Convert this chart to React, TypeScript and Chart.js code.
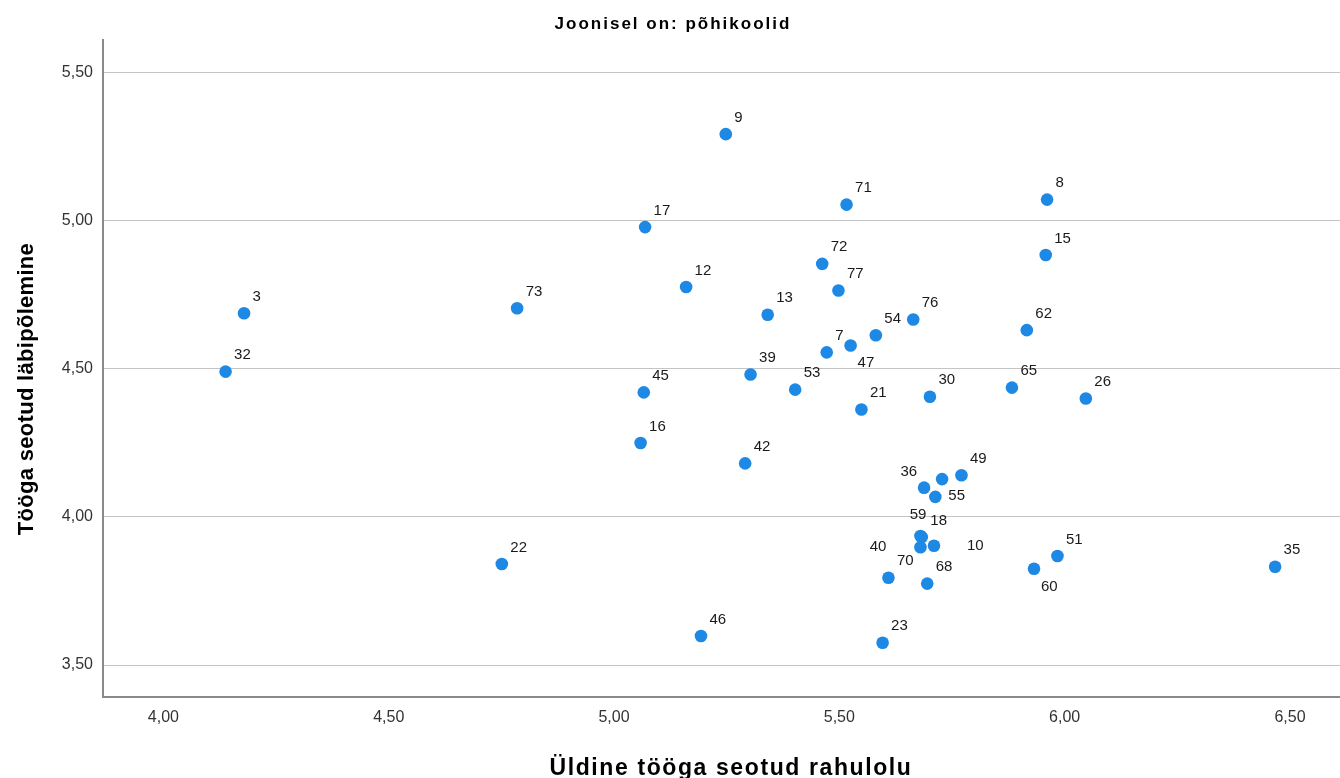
import React, { useEffect, useRef } from 'react';
import { Chart, registerables } from 'chart.js';

Chart.register(...registerables);

const chartTitle = 'Joonisel on: põhikoolid';
const xAxisTitle = 'Üldine tööga seotud rahulolu';
const yAxisTitle = 'Tööga seotud läbipõlemine';

const pointLabels = [
  '3', '32', '73', '22', '9', '17', '12', '71', '8', '15', '72', '77', '13', '76', '54', '62',
  '7', '47', '39', '45', '53', '21', '30', '65', '26', '16', '42', '36', '49', '55', '',
  '59', '18', '10', '40', '70', '68', '23', '60', '51', '35', '46',
];
const xValues = [
  4.179, 4.138, 4.785, 4.751, 5.248, 5.069, 5.160, 5.516, 5.961, 5.958, 5.462, 5.498, 5.341, 5.664, 5.581, 5.916,
  5.472, 5.525, 5.303, 5.066, 5.402, 5.549, 5.701, 5.883, 6.047, 5.059, 5.291, 5.688, 5.771, 5.713, 5.728,
  5.680, 5.683, 5.710, 5.680, 5.609, 5.695, 5.596, 5.932, 5.984, 6.467, 5.193,
];
const yValues = [
  4.688, 4.491, 4.705, 3.841, 5.293, 4.979, 4.777, 5.055, 5.072, 4.885, 4.855, 4.765, 4.683, 4.667, 4.614, 4.631,
  4.556, 4.579, 4.481, 4.421, 4.430, 4.363, 4.406, 4.437, 4.400, 4.250, 4.181, 4.099, 4.141, 4.068, 4.128,
  3.936, 3.932, 3.903, 3.898, 3.795, 3.775, 3.575, 3.825, 3.868, 3.832, 3.598,
];
const xTicks = [4.0, 4.5, 5.0, 5.5, 6.0, 6.5];
const yTicks = [3.5, 4.0, 4.5, 5.0, 5.5];

const fmt = (v: number) => v.toFixed(2).replace('.', ',');

// label placement: [dx, dy, align]
const labelPlacement: Record<string, [number, number, CanvasTextAlign]> = {
  '47': [7, 17.5, 'left'],
  '60': [7, 18, 'left'],
  '36': [-7, -16, 'right'],
  '55': [13, -1, 'left'],
  '59': [6, -21, 'right'],
  '10': [33, 0, 'left'],
  '40': [-34, 0, 'right'],
};
const defaultPlacement: [number, number, CanvasTextAlign] = [8.5, -16.5, 'left'];

const FONT = '"Liberation Sans", Arial, sans-serif';

const labelsPlugin = {
  id: 'pointLabelsPlugin',
  afterDatasetsDraw(chart: any) {
    const ctx = chart.ctx;
    const meta = chart.getDatasetMeta(0);
    ctx.save();
    ctx.font = `15px ${FONT}`;
    ctx.fillStyle = '#1a1a1a';
    ctx.textBaseline = 'middle';
    meta.data.forEach((el: any, i: number) => {
      const lab = pointLabels[i];
      if (!lab) return;
      const [dx, dy, align] = labelPlacement[lab] || defaultPlacement;
      ctx.textAlign = align;
      ctx.fillText(lab, el.x + dx, el.y + dy);
    });
    ctx.restore();
  },
};

const titlesPlugin = {
  id: 'titlesPlugin',
  afterDraw(chart: any) {
    const ctx = chart.ctx;
    ctx.save();
    ctx.fillStyle = '#000';
    ctx.textAlign = 'center';
    ctx.textBaseline = 'alphabetic';
    ctx.font = `bold 17px ${FONT}`;
    (ctx as any).letterSpacing = '2px';
    ctx.fillText(chartTitle, 673, 29);
    ctx.font = `bold 23px ${FONT}`;
    (ctx as any).letterSpacing = '1.6px';
    ctx.fillText(xAxisTitle, 731, 775);
    ctx.translate(33, 389);
    ctx.rotate(-Math.PI / 2);
    ctx.font = `bold 22px ${FONT}`;
    (ctx as any).letterSpacing = '0.3px';
    ctx.fillText(yAxisTitle, 0, 0);
    ctx.restore();
  },
};

export default function App() {
  const canvasRef = useRef<HTMLCanvasElement | null>(null);

  useEffect(() => {
    document.body.style.margin = '0';
    const canvas = canvasRef.current;
    if (!canvas) return;
    const data = xValues.map((x, i) => ({ x, y: yValues[i] }));
    const chart = new Chart(canvas, {
      type: 'scatter',
      data: {
        datasets: [
          {
            data,
            backgroundColor: '#1e88e5',
            borderColor: '#1e88e5',
            borderWidth: 0,
            pointRadius: 6.3,
            pointHoverRadius: 6.3,
          },
        ],
      },
      options: {
        animation: false,
        responsive: false,
        maintainAspectRatio: false,
        events: [],
        layout: { autoPadding: false, padding: { top: 40, left: 0, right: 0, bottom: 0 } },
        plugins: {
          legend: { display: false },
          tooltip: { enabled: false },
          title: { display: false },
        },
        scales: {
          x: {
            type: 'linear',
            min: 3.866,
            max: 6.611,
            afterBuildTicks: (scale: any) => {
              scale.ticks = xTicks.map((v) => ({ value: v }));
            },
            afterFit: (scale: any) => {
              scale.height = 81;
              scale.paddingLeft = 0;
              scale.paddingRight = 0;
            },
            ticks: {
              callback: (v: any) => fmt(Number(v)),
              font: { family: FONT, size: 16 },
              color: '#333',
              padding: 11,
              maxRotation: 0,
              autoSkip: false,
            },
            grid: { display: true, color: 'rgba(0,0,0,0)', drawTicks: false },
            border: { display: true, color: '#8a8a8a', width: 2 },
          },
          y: {
            type: 'linear',
            min: 3.392,
            max: 5.611,
            afterBuildTicks: (scale: any) => {
              scale.ticks = yTicks.map((v) => ({ value: v }));
            },
            afterFit: (scale: any) => {
              scale.width = 103;
              scale.paddingTop = 0;
              scale.paddingBottom = 0;
            },
            ticks: {
              callback: (v: any) => fmt(Number(v)),
              font: { family: FONT, size: 16 },
              color: '#333',
              padding: 10,
              autoSkip: false,
            },
            grid: { display: true, color: '#c4c4c4', lineWidth: 1, drawTicks: false },
            border: { display: true, color: '#8a8a8a', width: 2 },
          },
        },
      },
      plugins: [labelsPlugin, titlesPlugin],
    });
    return () => chart.destroy();
  }, []);

  return (
    <div style={{ position: 'fixed', left: 0, top: 0, width: 1340, height: 778, background: '#fff' }}>
      <canvas ref={canvasRef} width={1340} height={778} style={{ display: 'block' }} />
    </div>
  );
}
